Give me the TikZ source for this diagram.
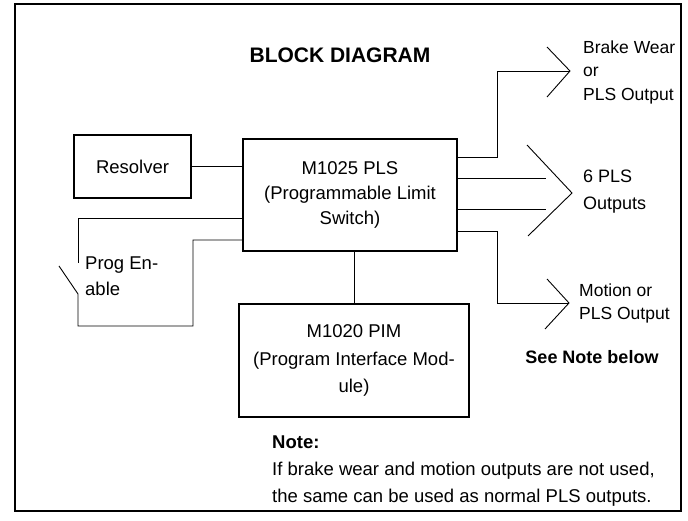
\documentclass[tikz,border=0pt]{standalone}
\usepackage{fontspec}
\setmainfont{Liberation Sans}
\usetikzlibrary{positioning,calc}

\tikzset{
  block/.style={draw, line width=1.6pt, inner sep=0pt, align=center,
    font=\fontsize{18.5}{25}\selectfont},
  wire/.style={line width=0.9pt},
  lbl/.style={anchor=west, align=left, inner sep=0pt,
    font=\fontsize{17.5}{23.5}\selectfont},
}

\begin{document}
\begin{tikzpicture}[x=1pt,y=-1pt]
  \useasboundingbox (0,0) rectangle (688,521);
  \draw[line width=1.4pt] (15,4) rectangle (681,511);

  % title and blocks
  \node[font=\bfseries\fontsize{21}{24}\selectfont] (title) at (340,55) {BLOCK DIAGRAM};
  \node[block, minimum width=117pt, minimum height=63pt] (resolver) at (132.5,166.5) {Resolver};
  \node[block, minimum width=214pt, minimum height=112pt] (pls) at (350,195)
    {M1025 PLS\\(Programmable Limit\\Switch)};
  \node[block, minimum width=230pt, minimum height=113pt,
    font=\fontsize{18.5}{27.5}\selectfont] (pim) at (354,360.5)
    {M1020 PIM\\(Program Interface Mod-\\ule)};

  % tips of the output chevrons
  \coordinate (brake tip) at (570,71);
  \coordinate (outs tip) at (572,193);
  \coordinate (motion tip) at (569,303);
  \coordinate (pe top) at (78,218);

  % connections
  \draw[wire] (resolver.east) -- (resolver.east -| pls.west);
  \draw[wire] (pim.north) -- (pim.north |- pls.south);
  \draw[wire] (pls.east |- 0,157) -| (brake tip -| 497,0) -- (brake tip);
  \draw[wire] (pls.east |- 0,231) -| (motion tip -| 497,0) -- (motion tip);
  \foreach \y in {178,209}
    \draw[wire] (pls.east |- 0,\y) -- (546,\y);

  \draw[wire] ($(brake tip)+(-23,-24)$) -- (brake tip) -- ++(-23,26);
  \draw[wire] ($(outs tip)+(-45,-48)$) -- (outs tip) -- ++(-44,43);
  \draw[wire] ($(motion tip)+(-22,-24)$) -- (motion tip) -- ++(-24,26);

  % prog enable switch
  \draw[wire] (pls.west |- pe top) -- (pe top) -- (78,263);
  \draw[wire] (59,266) -- (78,294) -- (78,326) -| (193,240) -- (pls.west |- 0,240);

  % labels
  \node[lbl] (brake lbl) at (583,72) {Brake Wear\\or\\PLS Output};
  \node[lbl, font=\fontsize{18}{27}\selectfont] (outs lbl) at (583,192) {6 PLS\\Outputs};
  \node[lbl] (motion lbl) at (579,303.5) {Motion or\\PLS Output};
  \node[font=\bfseries\fontsize{18}{20}\selectfont] (see note) at (592,357) {See Note below};
  \node[lbl, font=\fontsize{18.5}{26}\selectfont] (prog lbl) at (85,276) {Prog En-\\able};
  \node[lbl, font=\fontsize{18.5}{27}\selectfont] (note) at (272,471)
    {\textbf{Note:}\\If brake wear and motion outputs are not used,\\the same can be used as normal PLS outputs.};
\end{tikzpicture}
\end{document}
